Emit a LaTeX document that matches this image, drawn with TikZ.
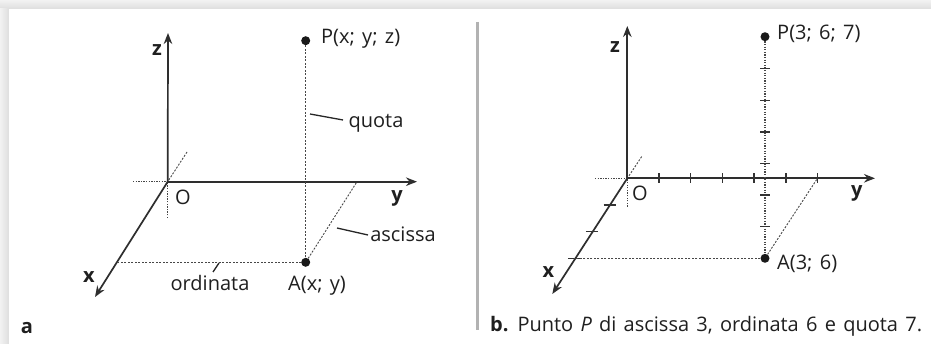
\documentclass[tikz,border=0pt]{standalone}
\usepackage{fontspec}
\setmainfont{Open Sans}[WordSpace=1.4]
\usetikzlibrary{arrows.meta}
\begin{document}
\begin{tikzpicture}[x=1pt,y=-1pt,
  axis/.style={draw=black!82,line width=1.7pt},
  axarrow/.style={axis,-{Stealth[length=11pt,width=8.5pt]}},
  dots/.style={draw=black!72,line width=1.2pt,dash pattern=on 1.3pt off 1.3pt},
  thindash/.style={draw=black!72,line width=0.9pt,dash pattern=on 2pt off 1.5pt},
  leader/.style={draw=black!85,line width=1.3pt},
  tick/.style={draw=black!80,line width=1.4pt},
  lbl/.style={font=\fontsize{20}{22}\selectfont,text=black!88,inner sep=0pt},
  axlbl/.style={font=\fontsize{20}{22}\selectfont\bfseries,text=black!88,inner sep=0pt},
  pt/.style={circle,fill=black!90,inner sep=0pt,minimum size=9pt}]
% background
\fill[white] (0,0) rectangle (931,344);
\shade[top color=black!5,bottom color=black!13] (0,0) rectangle (931,9);
\shade[left color=black!5,right color=black!13] (0,9) rectangle (9,344);
\fill[white] (9,9) rectangle (931,344);
% separator
\draw[black!30,line width=3pt] (477,22) -- (477,330);

% ===== panel a =====
\coordinate (O1) at (167.7,181.7);
\coordinate (ztip1) at (168,33);
\coordinate (ytip1) at (417,181.7);
\coordinate (xtip1) at (95,297);
\coordinate (yneg1) at (133,181.7);
\coordinate (zneg1) at (167.7,218);
\coordinate (xneg1) at (187,152);
\coordinate (Xa) at (117,262.3);
\coordinate (Ya) at (357,181.7);
\draw[dots] (yneg1) -- (O1);
\draw[dots] (zneg1) -- (O1);
\draw[thindash] (xneg1) -- (O1);
\draw[axarrow] (O1) -- (ztip1);
\draw[axarrow] (O1) -- (ytip1);
\draw[axarrow] (O1) -- (xtip1);
\node[pt] (P1) at (305.7,40.7) {};
\node[pt] (A1) at (305.7,262.3) {};
\draw[thindash] (P1) -- (A1);
\draw[thindash] (A1) -- (Xa);
\draw[thindash] (A1) -- (Ya);
\node[axlbl] (zl1) at (157,50) {z};
\node[axlbl] (yl1) at (397,198) {y};
\node[axlbl] (xl1) at (89,277) {x};
\node[lbl] (Ol1) at (183,197) {O};
\node[lbl,anchor=base west] (Pl1) at (321,43.3) {P(x; y; z)};
\node[lbl,anchor=base west] (Al1) at (288,291) {A(x; y)};
\node[lbl,anchor=base] (quota) at (376,128) {quota};
\node[lbl,anchor=base] (ascissa) at (403,242) {ascissa};
\node[lbl,anchor=base] (ordinata) at (210,291) {ordinata};
\coordinate (q1) at (310,114); \coordinate (q2) at (343,120);
\coordinate (a1) at (337,228); \coordinate (a2) at (368,235);
\coordinate (o1) at (219,263); \coordinate (o2) at (213,272);
\draw[leader] (q1) -- (q2);
\draw[leader] (a1) -- (a2);
\draw[leader] (o1) -- (o2);
\node[axlbl,anchor=base] (la) at (27,334) {a};

% ===== panel b =====
\coordinate (O2) at (627.3,178.3);
\coordinate (ztip2) at (627.3,26);
\coordinate (ytip2) at (875,178.3);
\coordinate (xtip2) at (552.3,294);
\coordinate (yneg2) at (595,178.3);
\coordinate (zneg2) at (627.3,206.7);
\coordinate (xneg2) at (641.7,156.6);
\coordinate (Xb) at (574.2,258.3);
\coordinate (Yb) at (817.5,178.3);
\draw[dots] (yneg2) -- (O2);
\draw[dots] (zneg2) -- (O2);
\draw[thindash] (xneg2) -- (O2);
\draw[axarrow] (O2) -- (ztip2);
\draw[axarrow] (O2) -- (ytip2);
\draw[axarrow] (O2) -- (xtip2);
% y ticks
\foreach \k in {1,...,6} {
  \draw[tick] (627.3+31.7*\k,173.5) -- (627.3+31.7*\k,183);
}
% x ticks
\foreach \k in {1,2,3} {
  \draw[tick] (627.3-17.7*\k-6,178.3+26.7*\k) -- (627.3-17.7*\k+6,178.3+26.7*\k);
}
\node[pt] (P2) at (765,36.7) {};
\node[pt] (A2) at (765,258.3) {};
\draw[dots] (P2) -- (A2);
\foreach \k in {1,...,6} {
  \draw[tick] (760,258.3-31.6*\k) -- (770,258.3-31.6*\k);
}
\draw[thindash] (A2) -- (Xb);
\draw[thindash] (A2) -- (Yb);
\node[axlbl] (zl2) at (615,46.7) {z};
\node[axlbl] (yl2) at (856.7,193.3) {y};
\node[axlbl] (xl2) at (548.3,271.7) {x};
\node[lbl] (Ol2) at (640,193.3) {O};
\node[lbl,anchor=base west] (Pl2) at (777,40) {P(3; 6; 7)};
\node[lbl,anchor=base west] (Al2) at (777,270) {A(3; 6)};
\node[lbl,anchor=base west] (cap) at (490,332) {\textbf{b.} Punto \textit{P} di ascissa 3, ordinata 6 e quota 7.};
\end{tikzpicture}
\end{document}
